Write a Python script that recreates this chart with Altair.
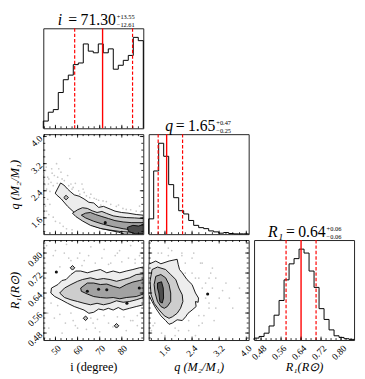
import altair as alt
import numpy as np
import pandas as pd

FONT = "Liberation Serif"
W, H = 102, 102

# ---------------- axis ranges & ticks ----------------
I_RANGE = [44.5, 89.7]
Q_RANGE = [1.12, 4.07]
R_RANGE = [0.452, 0.852]

I_MAJOR = [50, 60, 70, 80]
Q_MAJOR = [1.6, 2.4, 3.2, 4.0]
R_MAJOR = [0.48, 0.56, 0.64, 0.72, 0.80]
I_MINOR_STEP, Q_MINOR_STEP, R_MINOR_STEP = 2.5, 0.2, 0.02

# ---------------- 1-D histograms (20 bins) ----------------
I_COUNTS = [22, 49, 57, 109, 148, 162, 194, 199, 257, 235, 230, 257, 230, 242, 180, 192, 207, 222, 277, 267]
Q_COUNTS = [47, 194, 279, 239, 152, 112, 72, 62, 42, 27, 20, 17, 10, 7, 3, 5, 2, 1, 1, 1]
R_COUNTS = [6, 11, 21, 43, 76, 121, 184, 233, 249, 278, 266, 211, 161, 96, 63, 31, 13, 8, 4, 2]

I_QUANT = [58.69, 71.30, 84.85]
Q_QUANT = [1.40, 1.65, 2.12]
R_QUANT = [0.58, 0.64, 0.70]

# ---------------- contours: q vs i ----------------
IQ_OUT_I = [49.9, 52.3, 53.8, 55.5, 57.0, 58.5, 60.7, 62.9, 65.1, 67.3, 69.5, 71.7, 74.7, 76.9, 79.8, 82.8, 86.5, 89.7,
            89.7, 81.3, 78.4, 74.7, 71.0, 67.3, 64.4, 61.4, 58.5, 55.5, 52.6, 50.5]
IQ_OUT_Q = [2.33, 2.63, 2.57, 2.45, 2.36, 2.28, 2.24, 2.16, 2.06, 2.04, 1.91, 1.94, 1.86, 1.80, 1.76, 1.74, 1.70, 1.68,
            1.12, 1.12, 1.18, 1.23, 1.28, 1.36, 1.46, 1.58, 1.76, 1.94, 2.16, 2.28]
IQ_MID_I = [57.7, 60.0, 62.2, 64.4, 66.6, 68.8, 71.0, 73.2, 76.1, 79.1, 82.0, 85.7, 89.7,
            89.7, 83.5, 79.1, 74.7, 70.3, 65.8, 62.2, 59.2]
IQ_MID_Q = [1.74, 1.84, 1.90, 1.88, 1.81, 1.76, 1.79, 1.73, 1.66, 1.63, 1.61, 1.60, 1.58,
            1.16, 1.18, 1.20, 1.24, 1.29, 1.38, 1.51, 1.64]
IQ_IN_I = [61.7, 63.6, 65.8, 68.1, 71.0, 74.0, 76.9, 80.6, 84.2, 89.7, 89.7, 85.0, 80.6, 76.1, 71.7, 67.3, 63.6]
IQ_IN_Q = [1.68, 1.74, 1.76, 1.70, 1.64, 1.58, 1.52, 1.48, 1.46, 1.46, 1.20, 1.24, 1.28, 1.34, 1.41, 1.50, 1.60]
IQ_DARK_I = [82.5, 85.0, 87.5, 89.7, 89.7, 86.0, 83.0]
IQ_DARK_Q = [1.32, 1.38, 1.36, 1.40, 1.13, 1.13, 1.20]
IQ_PTS_I = [45.5, 46.5, 47.0, 48.0, 49.0, 46.0, 47.5, 51.0, 52.5, 54.0, 57.0, 58.0, 60.5, 63.0, 65.5, 68.5, 73.0, 77.5,
            82.0, 86.5, 47.5, 46.0, 49.0, 52.0, 55.0, 44.8, 50.5, 56.5, 62.0, 88.0, 45.2, 48.5, 53.5, 59.5, 70.5,
            44.7, 45.8, 46.8, 48.3, 49.5, 50.8, 51.5, 53.0, 55.5, 56.0, 57.5, 59.0, 61.0, 62.5, 64.0, 66.0, 67.5,
            69.5, 71.5, 75.0, 78.5, 80.5, 84.0, 88.5, 46.5, 45.5, 47.0, 50.0, 53.5, 57.5]
IQ_PTS_Q = [3.00, 2.80, 2.75, 2.65, 2.55, 2.45, 2.38, 2.80, 2.95, 2.70, 2.60, 2.50, 2.40, 2.35, 2.20, 2.15, 2.08, 1.94,
            1.85, 1.80, 2.00, 1.80, 1.62, 1.45, 1.28, 2.70, 3.20, 3.35, 2.60, 1.95, 2.58, 2.92, 2.48, 2.20, 1.98,
            2.90, 3.10, 2.60, 3.05, 2.85, 2.62, 3.05, 2.75, 2.85, 2.55, 2.45, 2.62, 2.30, 2.45, 2.25, 2.30, 2.18,
            2.12, 2.10, 2.00, 1.98, 1.88, 1.84, 1.78, 2.15, 1.95, 1.70, 1.50, 1.35, 1.25]
IQ_BLOB_I = [54.8]
IQ_BLOB_Q = [2.20]
IQ_DOT_I = [72.5]
IQ_DOT_Q = [1.46]

# ---------------- contours: R vs i ----------------
IR_OUT_I = [48.2, 51.1, 52.9, 54.8, 57.0, 59.2, 61.4, 64.4, 67.3, 70.3, 73.2, 76.1, 79.1, 82.0, 85.0, 87.9, 89.7,
            89.7, 86.5, 83.5, 80.6, 78.4, 76.1, 73.9, 71.7, 69.5, 67.3, 65.1, 62.9, 60.7, 58.5, 55.5, 52.6, 49.7, 47.9]
IR_OUT_R = [0.660, 0.674, 0.690, 0.694, 0.714, 0.728, 0.728, 0.721, 0.728, 0.734, 0.721, 0.728, 0.721, 0.728, 0.734, 0.741, 0.744,
            0.593, 0.586, 0.579, 0.572, 0.582, 0.572, 0.579, 0.572, 0.576, 0.563, 0.559, 0.572, 0.579, 0.586, 0.599, 0.613, 0.626, 0.640]
IR_MID_I = [51.9, 54.1, 57.0, 60.0, 62.2, 65.8, 68.8, 71.7, 74.7, 77.6, 80.6, 83.5, 86.5, 89.7,
            89.7, 86.5, 83.5, 80.6, 77.6, 74.7, 71.7, 68.8, 65.8, 62.9, 60.0, 57.0, 54.1]
IR_MID_R = [0.640, 0.660, 0.674, 0.687, 0.694, 0.701, 0.694, 0.698, 0.694, 0.687, 0.694, 0.701, 0.714, 0.717,
            0.622, 0.613, 0.606, 0.603, 0.609, 0.599, 0.593, 0.599, 0.593, 0.599, 0.606, 0.613, 0.622]
IR_IN_I = [61.4, 64.4, 67.3, 70.3, 73.2, 76.1, 79.1, 82.0, 85.0, 87.9, 89.7,
           89.7, 86.5, 82.0, 79.1, 76.1, 73.2, 70.3, 67.3, 64.4, 61.7]
IR_IN_R = [0.660, 0.680, 0.680, 0.674, 0.676, 0.667, 0.660, 0.674, 0.684, 0.690, 0.694,
           0.636, 0.626, 0.622, 0.617, 0.622, 0.620, 0.622, 0.626, 0.636, 0.647]
IR_PTS_I = [46, 50, 55, 61, 66, 72, 78, 84, 88, 47, 53, 59, 64, 70, 76, 82, 87, 45.5, 52, 58, 63, 69, 75, 81, 86, 48, 56, 67, 79, 85,
            45.5, 49, 52, 54, 57, 60, 62, 65, 68, 71, 74, 77, 80, 83, 86, 89, 46.5, 49.5, 51, 54.5, 57, 60, 66, 68, 72, 74, 78, 84, 87, 89]
IR_PTS_R = [0.83, 0.81, 0.835, 0.80, 0.825, 0.815, 0.80, 0.83, 0.79, 0.50, 0.48, 0.51, 0.495, 0.485, 0.505, 0.49, 0.51,
            0.70, 0.555, 0.53, 0.77, 0.535, 0.76, 0.545, 0.775, 0.60, 0.78, 0.52, 0.81, 0.53,
            0.76, 0.79, 0.745, 0.80, 0.77, 0.78, 0.75, 0.79, 0.76, 0.78, 0.755, 0.79, 0.765, 0.78, 0.76, 0.80,
            0.56, 0.54, 0.59, 0.52, 0.56, 0.50, 0.54, 0.50, 0.55, 0.52, 0.545, 0.53, 0.55, 0.50]
IR_BLOB_I = [57.7, 63.6, 77.6]
IR_BLOB_R = [0.741, 0.539, 0.509]
IR_DOT_I = [50.4, 64.4, 73.2, 82.3, 87.9, 69.5]
IR_DOT_R = [0.724, 0.647, 0.653, 0.599, 0.660, 0.655]

# ---------------- contours: R vs q ----------------
QR_OUT_Q = [1.12, 1.33, 1.48, 1.72, 1.96, 1.99, 2.03, 2.11, 2.25, 2.40, 2.50, 2.59, 2.58, 2.50, 2.52, 2.40, 2.28, 2.21,
            2.11, 1.96, 1.82, 1.72, 1.62, 1.48, 1.33, 1.22, 1.12]
QR_OUT_R = [0.755, 0.768, 0.757, 0.768, 0.775, 0.755, 0.734, 0.721, 0.694, 0.674, 0.640, 0.620, 0.603, 0.606, 0.586, 0.572, 0.559, 0.545,
            0.530, 0.533, 0.520, 0.515, 0.530, 0.549, 0.579, 0.606, 0.633]
QR_MID_Q = [1.22, 1.38, 1.62, 1.77, 1.92, 2.01, 2.11, 2.13, 2.06, 1.96, 1.82, 1.72, 1.58, 1.43, 1.28, 1.19, 1.16]
QR_MID_R = [0.734, 0.744, 0.734, 0.714, 0.694, 0.660, 0.633, 0.606, 0.579, 0.559, 0.545, 0.539, 0.549, 0.572, 0.599, 0.633, 0.687]
QR_IN_Q = [1.33, 1.48, 1.62, 1.72, 1.77, 1.77, 1.67, 1.58, 1.48, 1.38, 1.31, 1.28]
QR_IN_R = [0.707, 0.714, 0.701, 0.674, 0.640, 0.606, 0.586, 0.579, 0.586, 0.606, 0.640, 0.674]
QR_DARK_Q = [1.38, 1.50, 1.55, 1.56, 1.52, 1.45, 1.42, 1.38]
QR_DARK_R = [0.680, 0.685, 0.660, 0.620, 0.600, 0.605, 0.640, 0.660]
QR_PTS_Q = [1.5, 1.8, 2.1, 2.4, 2.7, 3.0, 1.3, 1.9, 2.6, 2.9, 3.3, 2.2, 2.5, 2.8, 3.1, 1.6, 2.0, 2.3, 2.7, 3.5,
            1.2, 1.7, 2.3, 2.9, 3.8,
            2.2, 2.4, 2.6, 2.7, 2.8, 2.9, 3.0, 3.1, 3.2, 3.4, 2.3, 2.6, 2.75, 2.5, 1.5, 1.9, 2.1, 1.7, 1.4, 3.6,
            2.45, 3.05, 2.65, 2.95, 1.25]
QR_PTS_R = [0.80, 0.81, 0.79, 0.78, 0.76, 0.74, 0.52, 0.50, 0.55, 0.60, 0.65, 0.72, 0.70, 0.68, 0.58, 0.47, 0.49, 0.53, 0.52, 0.62,
            0.49, 0.82, 0.60, 0.70, 0.66,
            0.76, 0.72, 0.70, 0.66, 0.62, 0.58, 0.66, 0.70, 0.62, 0.68, 0.49, 0.51, 0.55, 0.47, 0.48, 0.47, 0.80, 0.79, 0.80, 0.58,
            0.80, 0.53, 0.76, 0.72, 0.51]
QR_DOT_Q = [2.86]
QR_DOT_R = [0.636]

# ---------------- titles ----------------
TITLES = {
    "i": ("i", "71.30", "+13.55", "\u221212.61"),
    "q": ("q", "1.65", "+0.47", "\u22120.25"),
    "R": ("R\u2081", "0.64", "+0.06", "\u22120.06"),
}
AXIS_TITLES = {"i": "i (degree)", "q": "q (M\u2082/M\u2081)", "R": "R\u2081(R\u2299)"}

FILL_OUT, FILL_MID, FILL_IN, FILL_DARK = "#ededed", "#cdcdcd", "#a2a2a2", "#4d4d4d"


def sc(rng):
    return alt.Scale(domain=rng, nice=False, zero=False)


def minor(rng, step):
    start = np.ceil(rng[0] / step) * step
    return list(np.round(np.arange(start, rng[1], step), 4))


def x_axis(values, fmt, title, italic):
    return alt.Axis(values=values, format=fmt, labelAngle=315, ticks=False, domain=False, grid=False,
                    labelPadding=3, labelFlush=False, labelOverlap=False, title=title,
                    titleFontStyle="italic" if italic else "normal", titleX=W / 2, titleY=31,
                    titleBaseline="alphabetic", titleAlign="center")


def y_axis(values, fmt, title, italic):
    return alt.Axis(values=values, format=fmt, labelAngle=315, ticks=False, domain=False, grid=False,
                    labelPadding=3, labelFlush=False, labelOverlap=False, title=title,
                    titleFontStyle="italic" if italic else "normal", titleX=-25, titleY=H / 2, titleAngle=270,
                    titleBaseline="alphabetic", titleAlign="center")


def tick_layers(xr, yr, xmaj, xmin, ymaj, ymin, sides):
    layers = []
    for vals, L in ((xmaj, 3.5), (xmin, 2.0)):
        if vals is None:
            continue
        df = pd.DataFrame({"x": vals})
        if "bottom" in sides:
            layers.append(alt.Chart(df).mark_rule(color="black", strokeWidth=0.8).encode(
                x=alt.X("x:Q", scale=sc(xr), axis=None), y=alt.value(H), y2=alt.value(H - L)))
        if "top" in sides:
            layers.append(alt.Chart(df).mark_rule(color="black", strokeWidth=0.8).encode(
                x=alt.X("x:Q", scale=sc(xr), axis=None), y=alt.value(0), y2=alt.value(L)))
    for vals, L in ((ymaj, 3.5), (ymin, 2.0)):
        if vals is None:
            continue
        df = pd.DataFrame({"y": vals})
        if "left" in sides:
            layers.append(alt.Chart(df).mark_rule(color="black", strokeWidth=0.8).encode(
                y=alt.Y("y:Q", scale=sc(yr), axis=None), x=alt.value(0), x2=alt.value(L)))
        if "right" in sides:
            layers.append(alt.Chart(df).mark_rule(color="black", strokeWidth=0.8).encode(
                y=alt.Y("y:Q", scale=sc(yr), axis=None), x=alt.value(W), x2=alt.value(W - L)))
    return layers


def poly_layer(xv, yv, xr, yr, fill):
    df = pd.DataFrame({"x": xv, "y": yv, "k": list(range(len(xv)))})
    return alt.Chart(df).mark_line(interpolate="linear-closed", fill=fill, stroke="black", strokeWidth=0.9,
                                   clip=True, strokeJoin="round").encode(
        x=alt.X("x:Q", scale=sc(xr), axis=None), y=alt.Y("y:Q", scale=sc(yr), axis=None), order="k:Q")


def point_layer(xv, yv, xr, yr, **mk):
    df = pd.DataFrame({"x": xv, "y": yv})
    return alt.Chart(df).mark_point(clip=True, **mk).encode(
        x=alt.X("x:Q", scale=sc(xr), axis=None), y=alt.Y("y:Q", scale=sc(yr), axis=None))


def text_layer(t, x, y, size, italic=False, align="left"):
    return alt.Chart(pd.DataFrame({"t": [t]})).mark_text(
        font=FONT, fontSize=size, fontStyle="italic" if italic else "normal", align=align,
        baseline="alphabetic", color="black").encode(text="t:N", x=alt.value(x), y=alt.value(y))


def title_layers(key, var_c, eq_c, num_l, sup_l):
    var, num, sup, sub = TITLES[key]
    return [
        text_layer(var, var_c, -3, 16, italic=True, align="center"),
        text_layer("=", eq_c, -3, 16, align="center"),
        text_layer(num, num_l, -3, 16),
        text_layer(sup, sup_l, -9.5, 6.5),
        text_layer(sub, sup_l, -1.5, 6.5),
    ]


def hist_panel(rng, counts, quant, major, mstep, xaxis, tpos, key):
    n = len(counts)
    edges = np.linspace(rng[0], rng[1], n + 1)
    xs = [edges[0]] + list(edges[:n]) + [edges[n], edges[n]]
    ys = [0] + list(counts) + [counts[-1], 0]
    df = pd.DataFrame({"x": xs, "y": ys, "k": list(range(len(xs)))})
    ysc = alt.Scale(domain=[0, 1.1 * max(counts)], nice=False, zero=True)
    line = alt.Chart(df).mark_line(interpolate="step-after", color="black", strokeWidth=1).encode(
        x=alt.X("x:Q", scale=sc(rng), axis=xaxis), y=alt.Y("y:Q", scale=ysc, axis=None), order="k:Q")
    qdf = pd.DataFrame({"v": [quant[0], quant[2]]})
    dashed = alt.Chart(qdf).mark_rule(color="red", strokeWidth=1.2, strokeDash=[3.5, 2]).encode(
        x=alt.X("v:Q", scale=sc(rng), axis=None))
    solid = alt.Chart(pd.DataFrame({"v": [quant[1]]})).mark_rule(color="red", strokeWidth=1.4).encode(
        x=alt.X("v:Q", scale=sc(rng), axis=None))
    layers = [line, dashed, solid]
    layers += tick_layers(rng, [0, 1], major, minor(rng, mstep), None, None, ("bottom",))
    layers += title_layers(key, *tpos)
    return alt.layer(*layers).resolve_axis(x="independent", y="independent").properties(width=W, height=H)


def panel2d(xr, yr, pts, out, mid, inn, dark, blobs, dots, xaxis, yaxis, xmaj, xst, ymaj, yst):
    base = alt.Chart(pd.DataFrame({"x": pts[0], "y": pts[1]})).mark_circle(
        size=3, color="#9a9a9a", opacity=0.55, clip=True).encode(
        x=alt.X("x:Q", scale=sc(xr), axis=xaxis), y=alt.Y("y:Q", scale=sc(yr), axis=yaxis))
    layers = [base, poly_layer(*out, xr, yr, FILL_OUT), poly_layer(*mid, xr, yr, FILL_MID),
              poly_layer(*inn, xr, yr, FILL_IN)]
    if dark is not None:
        layers.append(poly_layer(*dark, xr, yr, FILL_DARK))
    if blobs is not None:
        layers.append(point_layer(*blobs, xr, yr, shape="diamond", size=22, filled=True, fill="#bdbdbd",
                                  stroke="black", strokeWidth=0.9, opacity=1))
    if dots is not None:
        layers.append(point_layer(*dots, xr, yr, shape="circle", size=10, filled=True, color="#111111", opacity=1))
    layers += tick_layers(xr, yr, xmaj, minor(xr, xst), ymaj, minor(yr, yst), ("bottom", "top", "left", "right"))
    return alt.layer(*layers).resolve_axis(x="independent", y="independent").properties(width=W, height=H)


def empty():
    return alt.Chart(pd.DataFrame({"x": [0]})).mark_point(opacity=0).encode(
        x=alt.X("x:Q", axis=None), y=alt.Y("x:Q", axis=None)).properties(
        width=W, height=H, view=alt.ViewBackground(strokeOpacity=0))


h_i = hist_panel(I_RANGE, I_COUNTS, I_QUANT, I_MAJOR, I_MINOR_STEP, None, (17, 30, 38, 75), "i")
h_q = hist_panel(Q_RANGE, Q_COUNTS, Q_QUANT, Q_MAJOR, Q_MINOR_STEP, None, (21, 32, 40, 69), "q")
h_r = hist_panel(R_RANGE, R_COUNTS, R_QUANT, R_MAJOR, R_MINOR_STEP,
                 x_axis(R_MAJOR, ".2f", AXIS_TITLES["R"], True), (22, 37, 45, 74), "R")

p_iq = panel2d(I_RANGE, Q_RANGE, (IQ_PTS_I, IQ_PTS_Q), (IQ_OUT_I, IQ_OUT_Q), (IQ_MID_I, IQ_MID_Q),
               (IQ_IN_I, IQ_IN_Q), (IQ_DARK_I, IQ_DARK_Q), (IQ_BLOB_I, IQ_BLOB_Q), (IQ_DOT_I, IQ_DOT_Q),
               None, y_axis(Q_MAJOR, ".1f", AXIS_TITLES["q"], True),
               I_MAJOR, I_MINOR_STEP, Q_MAJOR, Q_MINOR_STEP)
p_ir = panel2d(I_RANGE, R_RANGE, (IR_PTS_I, IR_PTS_R), (IR_OUT_I, IR_OUT_R), (IR_MID_I, IR_MID_R),
               (IR_IN_I, IR_IN_R), None, (IR_BLOB_I, IR_BLOB_R), (IR_DOT_I, IR_DOT_R),
               x_axis(I_MAJOR, "d", AXIS_TITLES["i"], False), y_axis(R_MAJOR, ".2f", AXIS_TITLES["R"], True),
               I_MAJOR, I_MINOR_STEP, R_MAJOR, R_MINOR_STEP)
p_qr = panel2d(Q_RANGE, R_RANGE, (QR_PTS_Q, QR_PTS_R), (QR_OUT_Q, QR_OUT_R), (QR_MID_Q, QR_MID_R),
               (QR_IN_Q, QR_IN_R), (QR_DARK_Q, QR_DARK_R), None, (QR_DOT_Q, QR_DOT_R),
               x_axis(Q_MAJOR, ".1f", AXIS_TITLES["q"], True), None,
               Q_MAJOR, Q_MINOR_STEP, R_MAJOR, R_MINOR_STEP)

chart = alt.concat(h_i, empty(), empty(), p_iq, h_q, empty(), p_ir, p_qr, h_r,
                   columns=3, spacing={"row": 6, "column": 5.5}, bounds="flush").properties(
    padding=0
).configure(font=FONT).configure_view(stroke="#222222", strokeWidth=1).configure_axis(
    labelFont=FONT, titleFont=FONT, labelFontSize=9.5, titleFontSize=12.5, titleFontWeight="normal",
    labelColor="black", titleColor="black")

chart.save("out.html", embed_options={"renderer": "svg", "actions": False})
